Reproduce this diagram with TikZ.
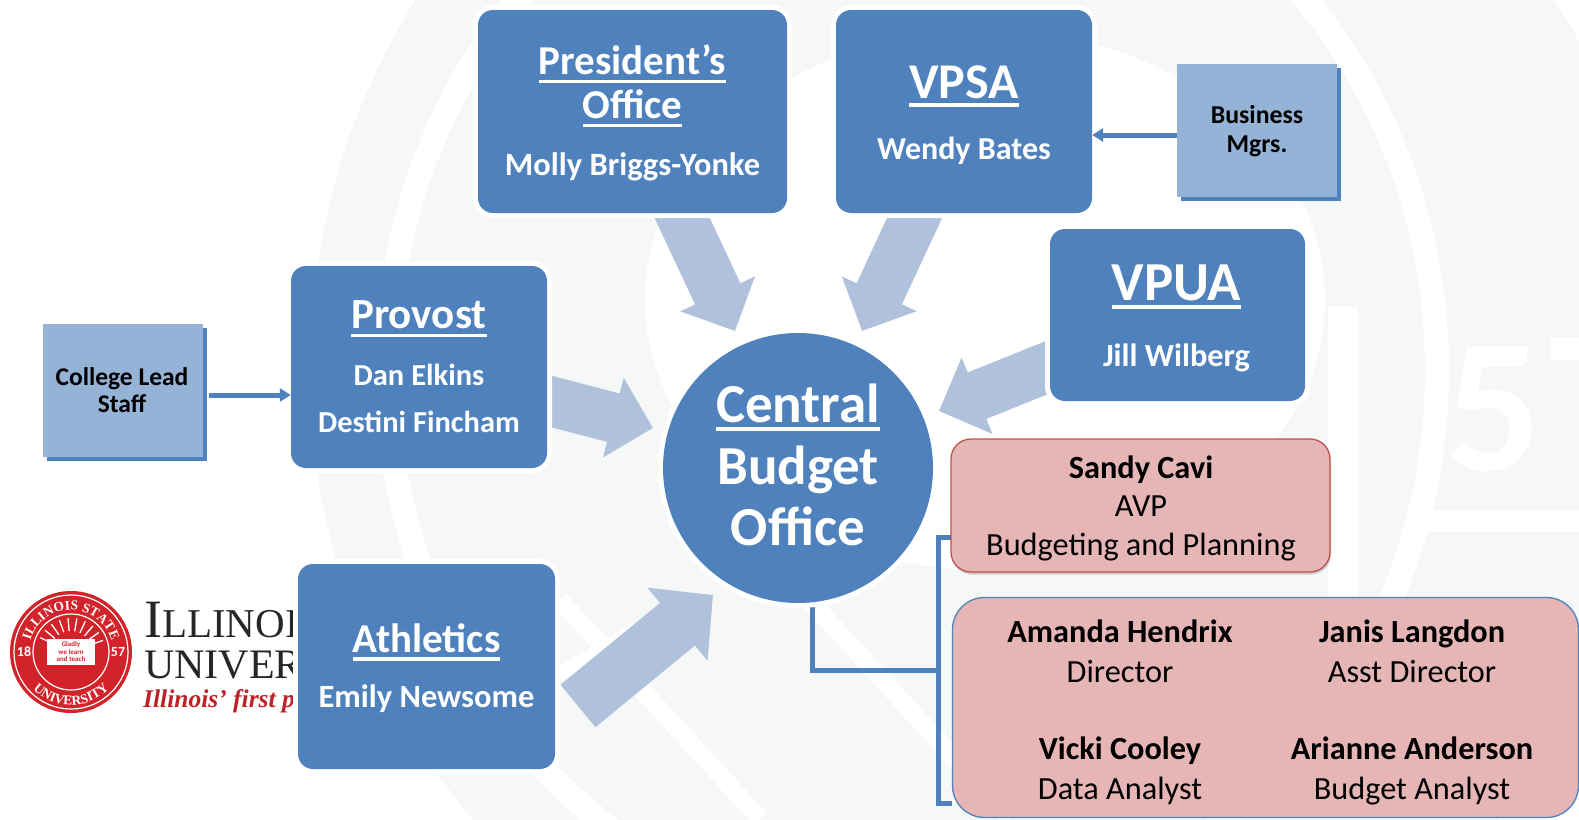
\documentclass[tikz,border=0pt]{standalone}
\usepackage{fontspec}
\setmainfont{Carlito}
\newfontfamily\logofont{Liberation Serif}
\usetikzlibrary{arrows.meta,backgrounds,shadows,decorations.text}
\newcommand{\ruled}[1]{\leavevmode\setbox0=\hbox{#1}\copy0\kern-\wd0\vrule width\wd0 height -5pt depth 8.5pt\relax}
\definecolor{blockblue}{HTML}{4F81BD}
\definecolor{paleblue}{HTML}{95B3D7}
\definecolor{flowblue}{HTML}{B0C1DC}
\definecolor{teampink}{HTML}{E6B6B6}
\definecolor{sandyred}{HTML}{C0504D}
\definecolor{sealred}{HTML}{D2232A}
\definecolor{markgray}{HTML}{F6F8F8}
\tikzset{
  block/.style={shape=rectangle, rounded corners=15pt, fill=blockblue,
    preaction={draw=white, line width=10pt}},
  feeder/.style={shape=rectangle, fill=paleblue,
    general shadow={shadow xshift=4pt, shadow yshift=-4pt, fill=blockblue, rounded corners=4pt}},
  team/.style={shape=rectangle, fill=teampink},
  head/.style={anchor=base, inner sep=0pt, text=white, font=\bfseries\fontsize{#1}{#1}\selectfont},
  person/.style={anchor=base, inner sep=0pt, text=white, font=\bfseries\fontsize{#1}{#1}\selectfont},
  small/.style={anchor=base, inner sep=0pt, text=black, font=\bfseries\fontsize{#1}{#1}\selectfont},
  member/.style={anchor=base, inner sep=0pt, text=black, font=\fontsize{32.3}{32.3}\selectfont},
  chief/.style={anchor=base, inner sep=0pt, text=black, font=\bfseries\fontsize{32.3}{32.3}\selectfont},
  flow/.style={draw=flowblue, line width=50pt,
    -{Triangle[width=80pt,length=41pt]}},
  link/.style={draw=blockblue, line width=5pt},
  feed/.style={draw=blockblue, line width=5pt, -{Triangle[width=13pt,length=11pt]}}
}
\begin{document}
\begin{tikzpicture}[x=1pt,y=-1pt]
  \useasboundingbox (0,0) rectangle (1579,819);
  % faint seal behind everything
  \begin{scope}[on background layer]
    \clip (0,0) rectangle (1579,819);
    \fill[markgray] (985,370) ellipse [x radius=675, y radius=690];
    \draw[white, line width=24pt] (912,370) ellipse [x radius=525, y radius=560];
    \fill[white] (985,300) ellipse [x radius=340, y radius=270];
    \fill[white] (1328,307) rectangle (1358,600);
    \fill[white] (1410,510) rectangle (1579,532);
    \fill[white] (1550,337) rectangle (1579,360);
    \draw[white, line width=18pt] (560,600) -- (760,819);
    \draw[white, line width=18pt] (800,590) -- (1010,819);
    \draw[white, line width=14pt] (530,690) -- (690,600);
    \node[anchor=base west, inner sep=0pt, text=white, font=\bfseries\fontsize{190}{190}\selectfont] (yeardigit) at (1445,470) {5};
  \end{scope}
  % boxes
  \node[block, minimum width=309pt, minimum height=203pt] (pres) at (632.5,111.5) {};
  \node[block, minimum width=256pt, minimum height=203pt] (vpsa) at (964,111.5) {};
  \node[block, minimum width=255pt, minimum height=172pt] (vpua) at (1177.5,315) {};
  \node[block, minimum width=256pt, minimum height=202pt] (provost) at (419,367) {};
  \node[block, minimum width=257pt, minimum height=205pt] (athletics) at (426.5,666.5) {};
  \node[block, shape=circle, minimum size=270pt] (budget) at (798,468) {};
  \node[feeder, minimum width=160pt, minimum height=133pt] (mgrs) at (1257,130.5) {};
  \node[feeder, minimum width=160pt, minimum height=133pt] (college) at (123,390.5) {};
  \node[team, draw=sandyred, line width=1.3pt, rounded corners=20pt, minimum width=379pt, minimum height=133pt,
    drop shadow={shadow xshift=1pt, shadow yshift=-2.5pt, opacity=.35}] (sandy) at (1140.5,505.5) {};
  \node[team, draw=blockblue, line width=1.3pt, rounded corners=32pt, minimum width=626pt, minimum height=220pt] (staff) at (1265.5,707.5) {};
  % box text
  \node[head=41] (prestitle) at (632.5,74.5) {\ruled{President’s}};
  \node[head=41] (presoffice) at (632.5,118.5) {\ruled{Office}};
  \node[person=32.5] (presname) at (632.5,175) {Molly Briggs-Yonke};
  \node[head=50] (vpsatitle) at (964,98) {\ruled{VPSA}};
  \node[person=32] (vpsaname) at (964,159) {Wendy Bates};
  \node[head=55] (vpuatitle) at (1176.5,300) {\ruled{VPUA}};
  \node[person=32.3] (vpuaname) at (1176.5,366) {Jill Wilberg};
  \node[head=43] (provosttitle) at (419,328.5) {\ruled{Provost}};
  \node[person=30.5] (provostone) at (419,385) {Dan Elkins};
  \node[person=30.5] (provosttwo) at (419,432) {Destini Fincham};
  \node[head=41] (athtitle) at (426.5,652) {\ruled{Athletics}};
  \node[person=32.5] (athname) at (426.5,707) {Emily Newsome};
  \node[head=55] (budgetone) at (798,422) {\ruled{Central}};
  \node[head=55] (budgettwo) at (798,484) {Budget};
  \node[head=55] (budgetthree) at (798,545.5) {Office};
  \node[small=25.8] (mgrsone) at (1257,123.5) {Business};
  \node[small=25.8] (mgrstwo) at (1257,152) {Mgrs.};
  \node[small=25.5] (collegeone) at (122,385) {College Lead};
  \node[small=25.5] (collegetwo) at (122,412) {Staff};
  \node[chief] (sandyname) at (1141,478) {Sandy Cavi};
  \node[member] (sandyrole) at (1141,516.5) {AVP};
  \node[member] (sandyunit) at (1141,555) {Budgeting and Planning};
  \node[chief] (amanda) at (1120,642) {Amanda Hendrix};
  \node[member] (amandarole) at (1120,682) {Director};
  \node[chief] (janis) at (1412,642) {Janis Langdon};
  \node[member] (janisrole) at (1412,682) {Asst Director};
  \node[chief] (vicki) at (1120,759) {Vicki Cooley};
  \node[member] (vickirole) at (1120,799) {Data Analyst};
  \node[chief] (arianne) at (1412,759) {Arianne Anderson};
  \node[member] (ariannerole) at (1412,799) {Budget Analyst};
  % arrows
  \coordinate (tippres) at (735,331);
  \coordinate (tipvpsa) at (862,331);
  \coordinate (tipvpua) at (939,411);
  \coordinate (tipprovost) at (653,428);
  \coordinate (tipath) at (713,595);
  \coordinate (tailath) at (578,706);
  \coordinate (sandytap) at (951,537);
  \coordinate (stafftap) at (952,803);
  \coordinate (trunk) at (938,670);
  \draw[feed] (mgrs.west |- 0,135) -- (vpsa.east |- 0,135);
  \draw[feed] ([xshift=6pt]college.east |- 0,395) -- (provost.west |- 0,395);
  \begin{scope}[on background layer]
    % seal
    \begin{scope}[shift={(71,652)},x=1pt,y=1pt]
      \node[circle, fill=sealred, minimum size=122pt, inner sep=0pt] (seal) at (0,0) {};
      \draw[white, line width=1.2pt] (0,0) circle (57pt);
      \draw[white, line width=1.2pt] (0,0) circle (38pt);
      \foreach \ang in {20,35,...,160}
        \draw[white, line width=1.3pt] (\ang:21pt) -- (\ang:34pt);
      \path[decorate, decoration={text along path, text align=center,
        text={|\logofont\bfseries\fontsize{13.5}{13.5}\selectfont\color{white}|ILLINOIS STATE}}]
        (172:42pt) arc[start angle=172, end angle=8, radius=42pt];
      \path[decorate, decoration={text along path, text align=center,
        text={|\logofont\bfseries\fontsize{13.5}{13.5}\selectfont\color{white}|UNIVERSITY}}]
        (200:53pt) arc[start angle=200, end angle=340, radius=53pt];
      \node[text=white, inner sep=0pt, font=\bfseries\fontsize{14}{14}\selectfont] (sealleft) at (-47,0) {18};
      \node[text=white, inner sep=0pt, font=\bfseries\fontsize{14}{14}\selectfont] (sealright) at (47,0) {57};
      \node[fill=white, inner sep=1.5pt, minimum width=48pt, minimum height=26pt, align=center, text=sealred, font=\bfseries\fontsize{7}{7.5}\selectfont] (sealbook) at (0,0) {Gladly\\we learn\\and teach};
    \end{scope}
    \node[anchor=base west, inner sep=0pt, text=black!85, font=\logofont] (logoone) at (144,637)
      {\fontsize{54}{54}\selectfont I\fontsize{41}{41}\selectfont LLINOI};
    \node[anchor=base west, inner sep=0pt, text=black!85, font=\logofont] (logotwo) at (144,678)
      {\fontsize{42}{42}\selectfont UNIVER};
    \node[anchor=base west, inner sep=0pt, text=sealred!90!black, font=\logofont\bfseries\itshape\fontsize{25.5}{25.5}\selectfont] (logothree) at (143,707)
      {Illinois’ first p};
    % connectors behind the boxes
    \draw[flow] (pres.center) -- (tippres);
    \draw[flow] (vpsa.center) -- (tipvpsa);
    \draw[flow] (vpua.center) -- (tipvpua);
    \draw[flow] (provost.center) -- (tipprovost);
    \draw[flow, line width=55pt, -{Triangle[width=92pt,length=46pt]}] (tailath) -- (tipath);
    \draw[link] (budget.276) |- (trunk);
    \draw[link] (sandytap) -| (trunk) |- (stafftap);
  \end{scope}
\end{tikzpicture}
\end{document}
